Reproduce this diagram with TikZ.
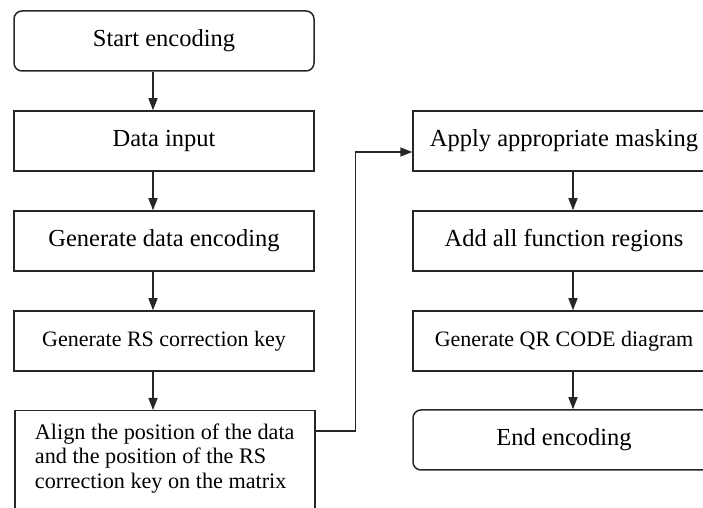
\documentclass[tikz,border=0pt]{standalone}
\usepackage{fontspec}
\setmainfont{Liberation Serif}
\usetikzlibrary{arrows.meta}
\begin{document}
\begin{tikzpicture}[x=0.5pt,y=-0.5pt,
  stepbox/.style={draw=black!85,line width=0.75pt,minimum height=30pt,inner sep=2pt},
  leftbox/.style={stepbox,minimum width=150pt},
  rightbox/.style={stepbox,minimum width=151pt},
  roundbox/.style={rounded corners=4pt},
  big/.style={font=\fontsize{12.25}{14}\selectfont},
  small/.style={font=\fontsize{11}{13}\selectfont},
  arr/.style={draw=black!85,line width=0.75pt,-{Triangle[width=4.5pt,length=6pt]}}]
\useasboundingbox (0,0) rectangle (703,508);
% left column
\node[leftbox,roundbox,big] (start)  at (164,41)  {Start encoding};
\node[leftbox,big]          (input)  at (164,141) {Data input};
\node[leftbox,big]          (gen)    at (164,241) {Generate data encoding};
\node[leftbox,small]        (rskey)  at (164,341) {Generate RS correction key};
\node[leftbox,anchor=north west,align=left,inner ysep=6.5pt,text depth=24pt,
      font=\fontsize{11.1}{12.3}\selectfont] (align) at (14,410)
  {Align the position of the data\\and the position of the RS\\correction key on the matrix};
% right column
\node[rightbox,big]          (mask)    at (564,141) {Apply appropriate masking};
\node[rightbox,big]          (regions) at (564,241) {Add all function regions};
\node[rightbox,small]        (qr)      at (564,341) {Generate QR CODE diagram};
\node[rightbox,roundbox,big] (stop)    at (564,440) {End encoding};
% arrows
\draw[arr] ([xshift=-5.5pt]start.south) -- ([xshift=-5.5pt]input.north);
\draw[arr] ([xshift=-5.5pt]input.south) -- ([xshift=-5.5pt]gen.north);
\draw[arr] ([xshift=-5.5pt]gen.south)   -- ([xshift=-5.5pt]rskey.north);
\draw[arr] ([xshift=-5.5pt]rskey.south) -- ([xshift=-5.5pt]rskey.south |- align.north);
\draw[arr] ([yshift=-10.5pt]align.north east) -- ++(40,0) |- ([yshift=-5.5pt]mask.west);
\draw[arr] ([xshift=4.5pt]mask.south)    -- ([xshift=4.5pt]regions.north);
\draw[arr] ([xshift=4.5pt]regions.south) -- ([xshift=4.5pt]qr.north);
\draw[arr] ([xshift=4.5pt]qr.south)      -- ([xshift=4.5pt]stop.north);
\end{tikzpicture}
\end{document}
